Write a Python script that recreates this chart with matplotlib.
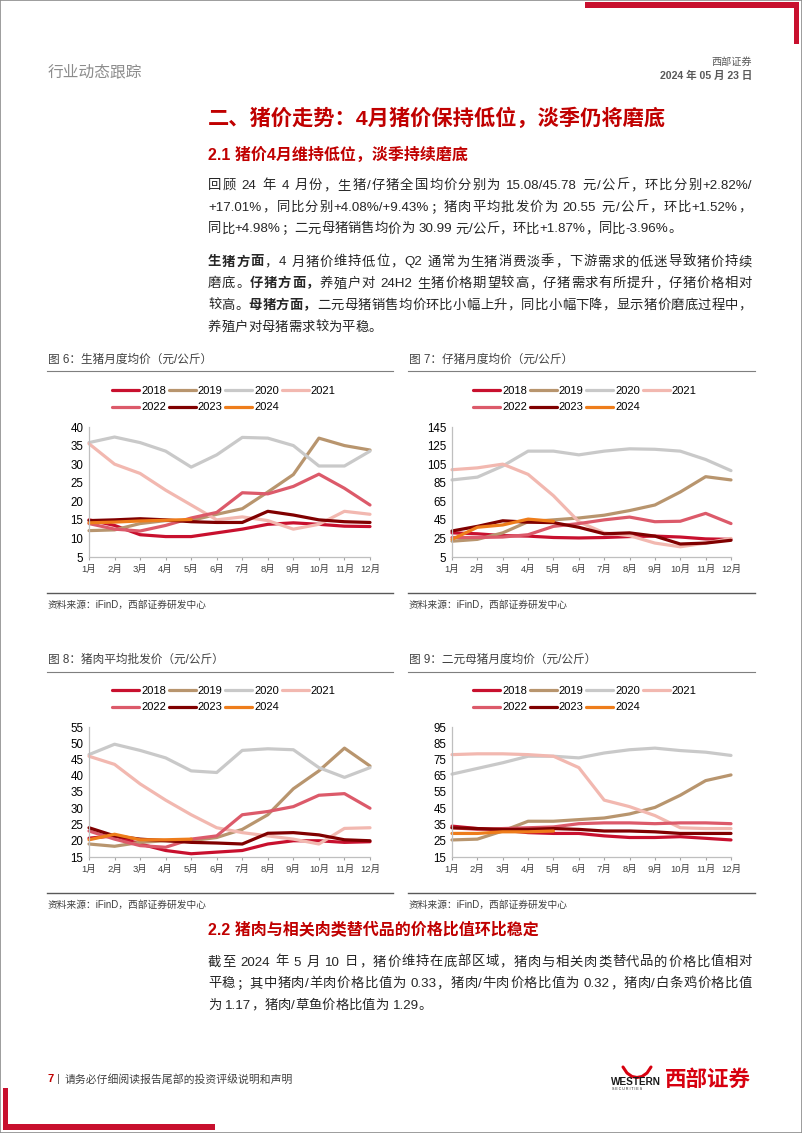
import matplotlib
matplotlib.use('Agg')
import matplotlib.pyplot as plt
from matplotlib.lines import Line2D
from matplotlib.patches import Rectangle

W, H = 802, 1133
FONT = ['Liberation Sans', 'Noto Sans CJK SC']
plt.rcParams['font.family'] = FONT

months = ['1月', '2月', '3月', '4月', '5月', '6月', '7月', '8月', '9月', '10月', '11月', '12月']
years = ['2018', '2019', '2020', '2021', '2022', '2023', '2024']
year_colors = ['#C8102E', '#B8956E', '#C9C9C9', '#F2B8B0', '#DC5A6A', '#800000', '#EE7D1B']

# 图6 生猪月度均价
hog_prices = {
    '2018': [15.0, 13.5, 11.0, 10.5, 10.5, 11.5, 12.5, 13.8, 14.2, 13.8, 13.3, 13.2],
    '2019': [12.1, 12.3, 14.0, 14.8, 14.8, 16.5, 18.0, 22.5, 27.2, 37.0, 35.0, 33.8],
    '2020': [35.8, 37.3, 35.8, 33.5, 29.2, 32.5, 37.2, 37.0, 35.0, 29.5, 29.5, 33.5],
    '2021': [35.5, 30.0, 27.5, 23.0, 19.0, 15.0, 15.8, 14.8, 12.5, 13.8, 17.3, 16.5],
    '2022': [14.0, 12.5, 12.0, 13.5, 15.5, 17.0, 22.3, 22.0, 24.0, 27.3, 23.5, 19.0],
    '2023': [14.8, 15.0, 15.3, 15.0, 14.5, 14.3, 14.3, 17.3, 16.3, 15.0, 14.5, 14.3],
    '2024': [14.2, 14.4, 14.7, 14.9, 15.1],
}
# 图7 仔猪月度均价
piglet_prices = {
    '2018': [31.0, 30.0, 28.0, 27.5, 26.0, 25.5, 26.0, 27.0, 27.5, 26.5, 24.5, 24.0],
    '2019': [22.0, 24.0, 31.0, 43.0, 45.0, 47.0, 50.0, 55.0, 61.0, 75.0, 91.5, 88.0],
    '2020': [88.0, 91.0, 103.0, 119.0, 119.0, 115.0, 119.0, 121.5, 121.0, 119.0, 110.0, 98.0],
    '2021': [99.0, 101.0, 105.0, 94.0, 71.0, 43.0, 31.0, 28.0, 20.0, 16.0, 20.0, 25.0],
    '2022': [26.0, 26.0, 26.5, 29.0, 38.0, 41.0, 45.0, 48.0, 43.0, 43.5, 52.0, 41.0],
    '2023': [33.0, 38.0, 44.0, 42.5, 42.0, 37.0, 30.0, 31.0, 27.5, 19.0, 20.0, 23.0],
    '2024': [24.0, 37.0, 39.5, 45.8, 43.5],
}
# 图8 猪肉平均批发价
pork_prices = {
    '2018': [20.8, 21.5, 19.0, 17.0, 16.0, 16.5, 17.0, 19.0, 20.0, 20.0, 19.5, 19.7],
    '2019': [19.0, 18.3, 19.5, 20.0, 20.0, 21.0, 23.5, 28.0, 36.0, 41.5, 48.5, 43.0],
    '2020': [46.5, 49.7, 47.8, 45.5, 41.5, 41.0, 47.8, 48.3, 48.0, 42.5, 39.5, 42.5],
    '2021': [46.0, 43.5, 37.5, 32.5, 28.0, 24.0, 22.5, 21.5, 20.5, 19.0, 23.8, 24.0],
    '2022': [23.0, 20.5, 18.5, 18.0, 20.5, 21.5, 28.0, 29.0, 30.5, 34.0, 34.5, 30.0],
    '2023': [24.0, 21.5, 20.5, 20.0, 19.5, 19.3, 19.0, 22.3, 22.5, 21.8, 20.3, 20.0],
    '2024': [20.3, 22.0, 20.3, 20.3, 20.5],
}
# 图9 二元母猪月度均价
sow_prices = {
    '2018': [34.0, 32.5, 31.5, 30.0, 29.5, 29.5, 28.0, 27.0, 27.0, 27.5, 26.5, 25.5],
    '2019': [25.5, 26.0, 31.0, 37.0, 37.0, 38.0, 39.0, 41.5, 45.5, 53.0, 62.0, 65.5],
    '2020': [66.0, 69.5, 73.0, 77.0, 77.0, 76.0, 79.0, 81.0, 82.0, 80.5, 79.5, 77.5],
    '2021': [78.0, 78.5, 78.5, 78.0, 77.0, 70.0, 50.0, 46.0, 40.5, 33.0, 32.5, 32.5],
    '2022': [33.0, 32.0, 32.5, 33.0, 33.5, 35.5, 36.0, 36.0, 35.5, 36.0, 36.0, 35.5],
    '2023': [33.0, 32.5, 32.0, 32.0, 32.5, 32.0, 31.0, 31.0, 30.5, 29.5, 29.5, 29.5],
    '2024': [29.5, 29.5, 30.5, 30.5, 31.0],
}

para1 = [
    [('回顾 24 年 4 月份，生猪/仔猪全国均价分别为 15.08/45.78 元/公斤，环比分别+2.82%/', False)],
    [('+17.01%，同比分别+4.08%/+9.43%；猪肉平均批发价为 20.55 元/公斤，环比+1.52%，', False)],
    [('同比+4.98%；二元母猪销售均价为 30.99 元/公斤，环比+1.87%，同比-3.96%。', False)],
]
para2 = [
    [('生猪方面', True), ('，4 月猪价维持低位，Q2 通常为生猪消费淡季，下游需求的低迷导致猪价持续', False)],
    [('磨底。', False), ('仔猪方面，', True), ('养殖户对 24H2 生猪价格期望较高，仔猪需求有所提升，仔猪价格相对', False)],
    [('较高。', False), ('母猪方面，', True), ('二元母猪销售均价环比小幅上升，同比小幅下降，显示猪价磨底过程中，', False)],
    [('养殖户对母猪需求较为平稳。', False)],
]
para3 = [
    [('截至 2024 年 5 月 10 日，猪价维持在底部区域，猪肉与相关肉类替代品的价格比值相对', False)],
    [('平稳；其中猪肉/羊肉价格比值为 0.33，猪肉/牛肉价格比值为 0.32，猪肉/白条鸡价格比值', False)],
    [('为 1.17，猪肉/草鱼价格比值为 1.29。', False)],
]

RED = '#C00000'
BODY = '#262626'


def fx(x):
    return x / W


def fy(y):
    return 1 - y / H


fig = plt.figure(figsize=(W / 100, H / 100), dpi=100)
renderer = fig.canvas.get_renderer()

_wcache = {}


def char_w(ch, size, bold):
    key = (ch, size, bold)
    if key not in _wcache:
        wt = 'bold' if bold else 'normal'
        t1 = fig.text(0, 0, '|' + ch + '|', fontsize=size, fontweight=wt)
        t2 = fig.text(0, 0, '||', fontsize=size, fontweight=wt)
        _wcache[key] = t1.get_window_extent(renderer).width - t2.get_window_extent(renderer).width
        t1.remove()
        t2.remove()
    return _wcache[key]


def is_latin(ch):
    return ord(ch) < 128 and ch != ' '


def text_line(x0, y, segs, size=9.6, color=BODY, right=None):
    """draw one line of body text, justified to `right` if given"""
    chars = [(c, b) for s, b in segs for c in s]
    ws = [char_w(c, size, b) for c, b in chars]
    gaps = [not (is_latin(chars[i][0]) and is_latin(chars[i + 1][0])) for i in range(len(chars) - 1)]
    extra = 0
    if right is not None and sum(gaps):
        extra = (right - x0 - sum(ws)) / sum(gaps)
    xs = [x0]
    for i in range(len(chars) - 1):
        xs.append(xs[-1] + ws[i] + (extra if gaps[i] else 0))
    start = 0
    for i in range(1, len(chars) + 1):
        if i == len(chars) or gaps[i - 1] or chars[i][1] != chars[start][1]:
            run = ''.join(c for c, b in chars[start:i])
            if run.strip():
                fig.text(fx(xs[start]), fy(y), run, fontsize=size, color=color,
                         fontweight='bold' if chars[start][1] else 'normal',
                         ha='left', va='baseline')
            start = i


def paragraph(lines, y0, step=21.7, x0=208, right=752):
    for i, segs in enumerate(lines):
        last = i == len(lines) - 1
        text_line(x0, y0 + i * step, segs, right=None if last else right)


def hline(x0, x1, y, color='#7F7F7F', lw=0.8):
    fig.add_artist(Line2D([fx(x0), fx(x1)], [fy(y), fy(y)], color=color, lw=lw,
                          transform=fig.transFigure))


# page frame and red corner marks
fig.add_artist(Rectangle((0, 0), 1, 1, transform=fig.transFigure, fill=False,
                         edgecolor='#8C8C8C', lw=1.2))
fig.add_artist(Rectangle((fx(585), fy(8)), fx(210), 6 / H, transform=fig.transFigure,
                         facecolor='#C8102E', edgecolor='none'))
fig.add_artist(Rectangle((fx(794), fy(44)), 5 / W, 42 / H, transform=fig.transFigure,
                         facecolor='#C8102E', edgecolor='none'))
fig.add_artist(Rectangle((fx(3), fy(1130)), 5 / W, 42 / H, transform=fig.transFigure,
                         facecolor='#C8102E', edgecolor='none'))
fig.add_artist(Rectangle((fx(3), fy(1130)), fx(212), 6 / H, transform=fig.transFigure,
                         facecolor='#C8102E', edgecolor='none'))

# header
fig.text(fx(48), fy(72), '行业动态跟踪', fontsize=11.3, color='#8C8C8C', va='center', ha='left')
fig.text(fx(752), fy(62), '西部证券', fontsize=7.3, color='#595959', va='center', ha='right')
fig.text(fx(752), fy(76), '2024 年 05 月 23 日', fontsize=7.6, color='#595959',
         fontweight='bold', va='center', ha='right')

# headings and body
fig.text(fx(208), fy(118), '二、猪价走势：4月猪价保持低位，淡季仍将磨底', fontsize=15.3,
         color=RED, fontweight='bold', va='center', ha='left')
fig.text(fx(208), fy(155), '2.1 猪价4月维持低位，淡季持续磨底', fontsize=11.5,
         color=RED, fontweight='bold', va='center', ha='left')
paragraph(para1, 189)
paragraph(para2, 265.5)
fig.text(fx(208), fy(929), '2.2 猪肉与相关肉类替代品的价格比值环比稳定', fontsize=11.5,
         color=RED, fontweight='bold', va='center', ha='left')
paragraph(para3, 965.5)

charts = [
    (hog_prices, '图 6：生猪月度均价（元/公斤）', 47, 393, 89, 370, 112, 340, (5, 40, 5)),
    (piglet_prices, '图 7：仔猪月度均价（元/公斤）', 408, 755, 452, 731, 473, 340, (5, 145, 20)),
    (pork_prices, '图 8：猪肉平均批发价（元/公斤）', 47, 393, 89, 370, 112, 640, (15, 55, 5)),
    (sow_prices, '图 9：二元母猪月度均价（元/公斤）', 408, 755, 452, 731, 473, 640, (15, 95, 10)),
]

for data, title, lx0, lx1, ax0, ax1, legx, top, (ylo, yhi, ystep) in charts:
    fig.text(fx(lx0 + 1), fy(top + 20), title, fontsize=8.4, color='#404040', va='center', ha='left')
    hline(lx0, lx1, top + 31.5)
    hline(lx0, lx1, top + 253, color='#595959', lw=1.0)
    fig.text(fx(lx0 + 1), fy(top + 265), '资料来源：iFinD，西部证券研发中心', fontsize=7.0,
             color='#404040', va='center', ha='left')

    ax = fig.add_axes([fx(ax0), fy(top + 217), (ax1 - ax0) / W, 130 / H])
    handles = []
    for year, color in zip(years, year_colors):
        vals = data[year]
        ln, = ax.plot(range(len(vals)), vals, color=color, lw=2.3, clip_on=False,
                      solid_capstyle='round', solid_joinstyle='round')
        handles.append(ln)
    ax.set_xlim(0, 11)
    ax.set_ylim(ylo, yhi)
    ax.set_yticks(range(ylo, yhi + 1, ystep))
    ax.set_xticks(range(12))
    ax.set_xticklabels(months, fontsize=6.8, color='#404040')
    for lab in ax.get_yticklabels():
        lab.set_fontsize(8.3)
    ax.tick_params(axis='y', length=0, pad=4, colors='#000000')
    ax.tick_params(axis='x', length=2.5, width=0.8, pad=3.5, color='#A6A6A6')
    for s in ['top', 'right']:
        ax.spines[s].set_visible(False)
    for s in ['left', 'bottom']:
        ax.spines[s].set_color('#BFBFBF')
        ax.spines[s].set_linewidth(0.9)
    ax.patch.set_alpha(0)

    # matplotlib fills legend columns first, so reorder to read row by row
    order = [0, 4, 1, 5, 2, 6, 3]
    ax.legend([handles[i] for i in order], [years[i] for i in order], ncol=4,
              loc='upper left', bbox_to_anchor=(fx(legx), fy(top + 45.5)),
              bbox_transform=fig.transFigure, frameon=False, fontsize=8,
              handlelength=2.45, handletextpad=0.18, columnspacing=0.22,
              labelspacing=0.62, borderpad=0, borderaxespad=0)

# footer
fig.text(fx(47), fy(1079), '7', fontsize=8, color=RED, fontweight='bold', va='center', ha='left')
fig.text(fx(57), fy(1079), '|', fontsize=8, color='#595959', va='center', ha='left')
fig.text(fx(65), fy(1079), '请务必仔细阅读报告尾部的投资评级说明和声明', fontsize=7.8,
         color='#404040', va='center', ha='left')

# logo
fig.add_artist(Line2D([fx(v) for v in [623, 627, 632, 637, 642, 647, 651]],
                      [fy(v) for v in [1067, 1073, 1076.5, 1077.5, 1076.5, 1073, 1067]],
                      color='#D7000F', lw=2.2, transform=fig.transFigure, solid_capstyle='round'))
fig.text(fx(611), fy(1082), 'WESTERN', fontsize=7.2, color='#1A1A1A', fontweight='bold',
         va='center', ha='left')
fig.text(fx(612), fy(1089.5), 'S E C U R I T I E S', fontsize=2.6, color='#1A1A1A',
         va='center', ha='left')
fig.text(fx(665), fy(1080), '西部证券', fontsize=15.5, color='#D7000F', fontweight='bold',
         va='center', ha='left')

fig.savefig('out.png', dpi=100)
